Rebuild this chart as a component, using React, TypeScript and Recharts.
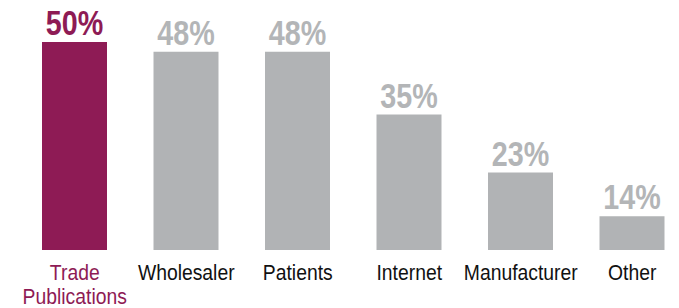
import React from "react";
import { BarChart, Bar, XAxis, YAxis, Cell } from "recharts";

const categories = ["Trade\nPublications", "Wholesaler", "Patients", "Internet", "Manufacturer", "Other"];
const values = [50, 48, 48, 35, 23, 14];
const highlight = [true, false, false, false, false, false];

const MAGENTA = "#8E1B55";
const GRAY = "#B1B3B5";
const LABEL_GRAY = "#B3B5B7";
const FONT = "'Liberation Sans', Arial, sans-serif";
const SQUEEZE = 0.82;
const TICK_SQUEEZE = 0.86;

const data = categories.map((c, i) => ({ name: c, value: values[i], hl: highlight[i] }));

const Tick = (props: any) => {
  const { x, y, payload, index } = props;
  const lines = String(payload.value).split("\n");
  const color = highlight[index] ? MAGENTA : "#111111";
  return (
    <g transform={`translate(${x},${y + 30}) scale(${TICK_SQUEEZE},1)`}>
      <text x={0} y={0} textAnchor="middle" fill={color} fontFamily={FONT} fontSize={22.5}>
        {lines.map((l, i) => (
          <tspan key={i} x={0} dy={i === 0 ? 0 : 24}>
            {l}
          </tspan>
        ))}
      </text>
    </g>
  );
};

const ValueLabel = (props: any) => {
  const { x, y, width, value, index } = props;
  const color = highlight[index] ? MAGENTA : LABEL_GRAY;
  return (
    <g transform={`translate(${x + width / 2},${y - 7}) scale(${SQUEEZE},1)`}>
      <text x={0} y={0} textAnchor="middle" fill={color} fontFamily={FONT} fontWeight="bold" fontSize={35}>
        {`${value}%`}
      </text>
    </g>
  );
};

export default function App() {
  return (
    <div style={{ marginLeft: -8, marginTop: -8, width: 679, height: 308, overflow: "hidden", background: "#fff" }}>
      <BarChart width={690} height={308} data={data} margin={{ top: 42, right: 2, bottom: 0, left: 19 }} barCategoryGap={0}>
        <XAxis
          dataKey="name"
          axisLine={false}
          tickLine={false}
          tickSize={0}
          tickMargin={0}
          height={58}
          interval={0}
          tick={<Tick />}
        />
        <YAxis hide domain={[7, 50]} allowDataOverflow />
        <Bar dataKey="value" barSize={65} isAnimationActive={false} label={<ValueLabel />}>
          {data.map((d, i) => (
            <Cell key={i} fill={d.hl ? MAGENTA : GRAY} />
          ))}
        </Bar>
      </BarChart>
    </div>
  );
}
